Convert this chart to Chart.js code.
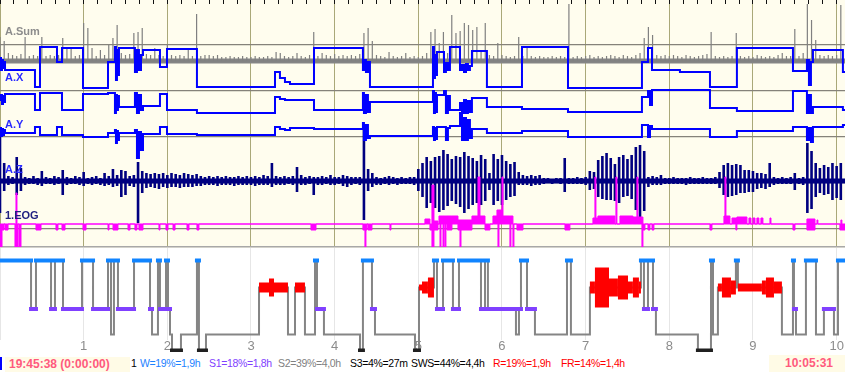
<!DOCTYPE html>
<html>
<head>
<meta charset="utf-8">
<script src="https://cdn.jsdelivr.net/npm/chart.js@4.4.1/dist/chart.umd.min.js"></script>
<style>
  html, body { margin: 0; padding: 0; background: #fff; }
  body { width: 845px; height: 372px; position: relative; overflow: hidden; font-family: "Liberation Sans", Arial, sans-serif; }
  #top { position: absolute; left: 0; top: 0; background: #fffdee; }
  #hyp { position: absolute; left: 0; top: 248px; background: #fff; }
  .lbl { position: absolute; left: 5px; font-weight: bold; font-size: 11px; line-height: 12px; white-space: nowrap; }
  #status { position: absolute; left: 0; top: 352px; width: 845px; height: 20px; font-size: 10.5px; letter-spacing: -0.35px; }
  #status span { position: absolute; top: 4px; line-height: 14px; white-space: nowrap; }
  .tbox { position: absolute; background: #fffbe6; color: #ff5a7d; font-weight: bold; font-size: 12px; line-height: 15px; white-space: nowrap; letter-spacing: 0; }
  #mark { position: absolute; left: 0; top: 5px; width: 2px; height: 13px; background: #0000ff; }
</style>
</head>
<body>
<canvas id="top" width="845" height="248"></canvas>
<canvas id="hyp" width="845" height="104"></canvas>

<div class="lbl" style="top:25px;color:#8c8c8c">A.Sum</div>
<div class="lbl" style="top:71px;color:#2b2bff">A.X</div>
<div class="lbl" style="top:118px;color:#2b2bff">A.Y</div>
<div class="lbl" style="top:163px;color:#2b2bff">A.Z</div>
<div class="lbl" style="top:209px;color:#202080">1.EOG</div>

<div id="status">
  <div id="mark"></div>
  <div class="tbox" style="left:5px;top:5px;width:121px;height:15px;padding-left:4px">19:45:38 (0:00:00)</div>
  <span style="left:131px;color:#000">1</span>
  <span style="left:140px;color:#1e82ff">W=19%=1,9h</span>
  <span style="left:209px;color:#8040ff">S1=18%=1,8h</span>
  <span style="left:278px;color:#808080">S2=39%=4,0h</span>
  <span style="left:350px;color:#000">S3=4%=27m</span>
  <span style="left:411px;color:#000">SWS=44%=4,4h</span>
  <span style="left:493px;color:#ff0000">R=19%=1,9h</span>
  <span style="left:561px;color:#ff0000">FR=14%=1,4h</span>
  <div class="tbox" style="left:769px;top:3px;width:64px;height:17px;line-height:17px;text-align:right;padding-right:12px">10:05:31</div>
</div>

<script>
// ---- recording span (hours) ----
const END_H = 10.1;
const BIN_H = 0.05;

// A.Sum: upward envelope per 0.05 h bin
const sumUp = [
  24,20,8,6,5,7,24,5,6,5,
  24,5,6,5,6,23,13,13,5,6,
  38,33,13,5,11,6,16,23,36,8,
  6,7,28,29,33,7,6,13,6,5,
  16,6,5,6,5,13,5,47,5,6,
  6,5,6,4,4,5,4,4,5,4,
  4,5,4,4,5,4,9,8,5,4,
  5,8,5,4,6,29,5,8,6,5,
  7,5,6,5,6,5,7,28,33,20,
  6,5,4,9,5,4,5,8,4,5,
  4,5,8,29,32,18,29,8,46,28,
  30,38,36,31,34,9,38,6,5,18,
  6,5,4,5,24,5,14,5,4,5,
  4,4,5,4,5,4,61,4,5,4,
  5,6,4,5,4,5,6,5,4,6,
  5,4,6,8,23,34,26,6,5,6,
  5,6,5,4,6,5,4,5,6,7,
  29,5,4,5,4,5,28,5,4,5,
  4,6,5,4,5,4,6,8,5,5,
  32,5,8,61,41,21,6,5,6,5,
  6,56,40
];

// A.Z activity: up / down envelope per 0.05 h bin
const azUp = [
  50,18,5,4,24,13,4,3,5,3,
  10,4,3,5,4,11,4,3,5,4,
  9,3,4,5,3,8,5,12,6,11,
  10,5,6,19,10,8,7,8,7,8,
  6,8,7,6,8,7,6,7,5,4,
  5,4,5,4,5,4,4,5,4,5,
  4,5,4,6,5,18,5,4,5,4,
  5,14,6,4,5,4,4,5,4,6,
  4,4,6,5,4,4,4,51,12,8,
  4,3,4,5,4,3,4,3,4,4,
  12,18,24,20,24,25,31,27,22,25,
  24,29,25,23,20,26,22,8,27,22,
  26,20,17,19,9,6,5,6,5,6,
  3,3,2,3,3,23,3,3,4,3,
  4,10,9,21,25,28,23,17,24,26,
  22,26,34,36,30,4,5,4,6,3,
  3,4,3,3,3,4,3,3,4,3,
  3,4,9,16,18,16,17,16,11,11,
  10,8,8,7,18,4,3,4,3,4,
  8,3,4,38,30,18,13,16,14,18,
  15,18,16
];
const azDown = [
  32,10,4,3,14,10,4,3,3,4,
  5,3,3,4,3,14,4,3,3,4,
  5,3,4,3,4,5,4,6,5,16,
  14,5,6,42,12,7,6,7,8,6,
  7,6,6,7,6,6,6,5,5,4,
  4,4,5,4,4,4,5,4,4,4,
  4,5,4,4,4,6,4,4,4,3,
  4,11,4,4,3,14,4,4,3,4,
  4,3,5,6,4,3,4,39,10,6,
  4,4,3,4,3,4,3,3,3,4,
  10,16,27,22,27,31,29,25,20,23,
  26,32,28,24,22,24,20,9,24,20,
  24,19,16,15,4,4,4,5,4,4,
  3,2,3,2,3,11,3,3,3,3,
  4,9,8,16,18,19,19,20,22,16,
  15,18,29,36,30,6,4,4,4,3,
  3,3,3,3,4,3,3,3,3,3,
  3,3,7,14,16,15,14,12,12,11,
  11,8,7,8,6,4,3,3,3,3,
  9,3,4,32,28,16,12,14,13,19,
  17,19,18
];

// body position channels: change times (h) and levels
const posTime = [0,0.012,0.024,0.036,0.048,0.060,0.418,0.478,0.681,0.741,
  0.992,1.291,1.374,1.386,1.398,1.410,1.422,1.613,1.637,1.661,
  1.685,1.709,1.912,1.996,2.354,3.287,3.346,3.406,3.466,3.753,
  4.338,4.350,4.374,4.398,4.422,5.175,5.187,5.199,5.211,5.223,
  5.307,5.330,5.354,5.378,5.498,5.522,5.546,5.570,5.593,5.617,
  5.641,5.820,6.239,6.789,7.673,7.745,7.769,7.793,8.127,8.486,
  8.808,9.478,9.645,9.669,9.693,9.717,10.075,10.1];
const posX = [31,19,29,21,27,19,2,42,27,41,
  1,27,42,9,39,14,41,17,39,19,
  34,39,22,40,2,17,11,7,5,41,
  19,29,17,27,2,42,11,34,14,37,
  17,26,19,42,19,24,17,25,19,23,
  38,2,42,1,27,41,41,19,17,2,
  41,18,29,4,27,39,17,17];
const posY = [13,18,9,17,11,19,3,20,20,3,
  19,20,0,18,3,17,6,20,0,18,
  3,7,19,3,0,16,14,13,13,3,
  20,0,18,1,11,22,0,20,1,18,
  22,0,17,3,10,0,13,0,12,1,
  15,6,4,1,16,22,8,23,23,5,
  2,22,0,18,0,6,3,3];
const posZ = [9,1,8,2,7,4,10,2,10,2,
  0,4,7,-6,6,-3,4,7,-21,5,
  -13,3,10,3,2,10,8,7,9,8,
  14,-3,12,-1,1,10,-3,9,-2,10,
  10,-3,9,11,24,-3,19,-3,17,-1,
  8,4,6,0,12,0,11,8,8,0,
  6,10,-3,9,-5,10,12,12];

// EOG: change times (h), upward and downward deflection held until next time
const eogTime = [0,0.024,0.048,0.060,0.096,0.179,0.191,0.203,0.215,0.227,
  0.251,0.430,0.490,0.669,0.693,0.741,0.777,0.992,1.028,1.291,
  1.303,1.351,1.410,1.530,1.554,1.613,1.637,1.661,1.709,1.900,
  1.912,1.984,2.008,2.068,2.092,2.235,2.259,2.354,2.378,3.717,
  3.777,4.338,4.362,4.374,4.386,4.398,4.446,4.661,4.673,5.079,
  5.139,5.163,5.187,5.235,5.247,5.259,5.271,5.295,5.307,5.318,
  5.330,5.342,5.402,5.474,5.498,5.510,5.641,5.713,5.737,5.797,
  5.856,5.892,5.940,5.952,5.964,6.000,6.012,6.095,6.107,6.131,
  6.143,6.179,6.251,6.753,6.812,7.087,7.111,7.123,7.147,7.350,
  7.362,7.374,7.410,7.565,7.613,7.625,7.673,7.685,7.709,7.745,
  7.769,7.793,7.816,8.486,8.510,8.653,8.665,8.677,8.725,8.749,
  8.796,8.808,8.928,8.952,8.976,9.000,9.024,9.047,9.071,9.095,
  9.119,9.203,9.215,9.478,9.502,9.645,9.741,9.765,9.776,10.039,
  10.051,10.063,10.1];
const eogUp = [0,0,0,0,0,0,31,0,0,0,
  0,0,0,0,0,0,0,0,0,0,
  0,0,0,0,0,0,0,0,0,0,
  0,0,0,0,0,0,0,0,0,0,
  0,0,0,0,0,0,0,0,0,5,
  0,39,3,0,8,8,8,8,8,8,
  8,8,8,4,4,4,8,47,8,0,
  0,8,14,14,14,47,8,8,8,0,
  0,0,0,0,0,6,47,6,8,0,
  47,0,8,7,47,7,7,0,0,0,
  0,0,0,0,0,8,47,8,0,6,
  6,7,0,6,0,6,0,6,0,6,
  0,6,0,0,0,5,0,4,0,0,
  4,0,0];
const eogDown = [23,6,0,6,0,23,23,23,0,23,
  0,6,0,6,0,6,0,6,0,6,
  0,6,0,6,0,6,0,6,0,6,
  0,6,0,6,0,6,0,6,0,6,
  0,6,23,6,0,6,0,6,0,0,
  6,23,6,0,0,23,0,23,0,23,
  0,6,0,6,23,6,0,0,0,6,
  0,0,0,23,0,0,0,23,0,23,
  0,6,0,6,0,0,0,0,0,0,
  0,0,0,0,0,0,23,6,0,6,
  0,6,0,6,0,0,0,0,0,0,
  6,0,0,0,0,0,0,0,0,0,
  0,0,0,6,0,6,0,0,0,6,
  6,6,6];

// hypnogram: epoch start (h) and stage
const hypnoStart = [0,0.371,0.430,0.610,0.657,0.753,0.980,1.112,1.291,1.327,
  1.362,1.410,1.602,1.793,1.817,1.888,1.912,1.984,2.008,2.032,
  2.056,2.163,2.354,2.378,2.462,3.096,3.442,3.526,3.645,3.765,
  3.789,3.872,4.303,4.338,4.446,4.482,4.960,5.008,5.187,5.223,
  5.295,5.414,5.486,5.749,5.797,5.832,6.167,6.203,6.227,6.299,
  6.394,6.777,6.824,7.051,7.661,7.697,7.745,7.805,7.840,8.342,
  8.498,8.522,8.581,8.796,8.820,9.346,9.478,9.490,9.514,9.633,
  9.753,9.848,9.968,10.016];
const hypnoStage = ['W','S1','W','S1','W','S1','W','S1','W','S2',
  'W','S1','W','S1','S2','W','S1','W','S1','S2',
  'S3','S2','W','S3','S2','R','S2','R','S2','W',
  'S1','S2','S3','W','S1','S2','S3','R','W','S1',
  'W','S1','W','S1','W','S1','S2','S1','W','S1',
  'S2','W','S2','R','W','S1','W','S1','S2','S3',
  'W','S2','R','W','R','S2','W','S1','S2','W',
  'S2','S1','S2','W'];

// REM intensity blocks (h) and half thickness
const remStart = [3.096,3.215,3.275,3.526,5.008,5.044,5.115,7.051,7.111,7.279,7.386,7.506,7.565,7.637,8.581,8.629,8.737,8.820,9.107,9.155,9.251];
const remEnd   = [3.215,3.275,3.442,3.645,5.044,5.115,5.187,7.111,7.279,7.386,7.506,7.565,7.637,7.661,8.629,8.737,8.796,9.107,9.155,9.251,9.346];
const remHalf  = [5,9,5,5,3,6,10,6,20,9,12,6,10,6,4,10,7,4,7,10,6];

// ---- layout of the signal panel (canvas px) ----
const TOP_Y = 4, BOTTOM_Y = 247;
const LANE_Y = [45, 91, 137, 183, 229];
const BASE = { sum: 61, x: 89, y: 113, z: 137, az: 181, eog: 224 };

// hypnogram levels (px from panel top)
const HYP_AREA_H = 92;
const STAGE_LEVEL = { W: 12.5, R: 39.5, S1: 61, S2: 86.5, S3: 102.5 };
const STAGE_COLOR = { W: '#1084ff', S1: '#8040ff', S3: '#202020' };

function chanAxis(base) {
  return { type: 'linear', display: false, min: base - BOTTOM_Y, max: base - TOP_Y };
}

// one vertical stroke per bin, from -down to +up, back on the baseline between bins
function spikes(up, down) {
  const pts = [];
  up.forEach((u, i) => {
    const t = i * BIN_H;
    pts.push({ x: t, y: 0 }, { x: t, y: u }, { x: t, y: down ? -down[i] : 0 }, { x: t, y: 0 });
  });
  return pts;
}

const flat = [{ x: 0, y: 0 }, { x: END_H, y: 0 }];

function steps(times, vals, sign) {
  return times.map((t, i) => ({ x: t, y: (sign || 1) * vals[i] }));
}

const stepLine = { stepped: true, borderColor: '#0000ff', borderWidth: 2 };

new Chart(document.getElementById('top'), {
  type: 'line',
  data: {
    datasets: [
      { ...stepLine, label: 'A.X', data: steps(posTime, posX), yAxisID: 'yX', order: 0 },
      { ...stepLine, label: 'A.Y', data: steps(posTime, posY), yAxisID: 'yY', order: 1 },
      { ...stepLine, label: 'A.Y2', data: steps(posTime, posZ), yAxisID: 'yZ', order: 2 },
      { label: 'EOG+', data: steps(eogTime, eogUp), yAxisID: 'yEOG', stepped: true,
        borderColor: '#ff00ff', borderWidth: 1, fill: '+1', backgroundColor: '#ff00ff', order: 3 },
      { label: 'EOG-', data: steps(eogTime, eogDown, -1), yAxisID: 'yEOG', stepped: true,
        borderColor: '#ff00ff', borderWidth: 1, order: 3 },
      { label: 'A.Z', data: spikes(azUp, azDown), yAxisID: 'yAZ', borderColor: '#000080', borderWidth: 2.6,
        borderJoinStyle: 'bevel', borderCapStyle: 'butt', order: 4 },
      { label: 'A.Z band', data: flat, yAxisID: 'yAZ', borderColor: '#000080', borderWidth: 5, order: 4 },
      { label: 'A.Sum', data: spikes(sumUp), yAxisID: 'ySum', borderColor: '#808080', borderWidth: 1.2,
        borderJoinStyle: 'bevel', borderCapStyle: 'butt', order: 5 },
      { label: 'A.Sum band', data: flat, yAxisID: 'ySum', borderColor: '#858585', borderWidth: 5, order: 5 }
    ]
  },
  options: {
    responsive: false,
    animation: false,
    events: [],
    layout: { padding: { bottom: 1 } },
    elements: { point: { radius: 0 }, line: { tension: 0 } },
    plugins: { legend: { display: false }, tooltip: { enabled: false } },
    scales: {
      x: {
        type: 'linear', position: 'top', min: 0, max: END_H,
        afterBuildTicks: s => { s.ticks = Array.from({ length: 61 }, (_, i) => ({ value: i / 6 })); },
        ticks: { display: false },
        grid: {
          color: c => (c.index % 6 === 0 ? '#aaa878' : 'rgba(0,0,0,0)'),
          tickColor: '#111', tickLength: 4, lineWidth: 1
        },
        border: { display: false }
      },
      xb: {
        type: 'linear', position: 'bottom', min: 0, max: END_H,
        ticks: { display: false },
        grid: { drawOnChartArea: false, drawTicks: false },
        border: { display: true, color: '#a8a8a8', width: 1.5, dash: [4, 3] }
      },
      lanes: {
        type: 'linear', position: 'left', min: TOP_Y, max: BOTTOM_Y, reverse: true,
        afterBuildTicks: s => { s.ticks = LANE_Y.map(v => ({ value: v })); },
        ticks: { display: false },
        grid: { color: '#85827a', lineWidth: 1.2, drawTicks: false },
        border: { display: false }
      },
      ySum: chanAxis(BASE.sum),
      yX: chanAxis(BASE.x),
      yY: chanAxis(BASE.y),
      yZ: chanAxis(BASE.z),
      yAZ: chanAxis(BASE.az),
      yEOG: chanAxis(BASE.eog)
    }
  }
});

// ---- hypnogram ----
const epochEnd = i => (i + 1 < hypnoStart.length ? hypnoStart[i + 1] : END_H);

const stepPts = hypnoStart.map((t, i) => ({ x: t, y: STAGE_LEVEL[hypnoStage[i]] }));
stepPts.push({ x: END_H, y: STAGE_LEVEL[hypnoStage[hypnoStage.length - 1]] });

function stageBars(stage) {
  const pts = [];
  hypnoStart.forEach((t, i) => {
    if (hypnoStage[i] !== stage) return;
    pts.push({ x: t, y: STAGE_LEVEL[stage] }, { x: epochEnd(i), y: STAGE_LEVEL[stage] }, { x: epochEnd(i), y: null });
  });
  return pts;
}

const remPts = [];
remStart.forEach((s, i) => {
  remPts.push({ x: s, y: STAGE_LEVEL.R, w: remHalf[i] * 2 }, { x: remEnd[i], y: STAGE_LEVEL.R }, { x: remEnd[i], y: null });
});

const barSet = stage => ({
  label: stage, data: stageBars(stage), borderColor: STAGE_COLOR[stage], borderWidth: 4,
  borderCapStyle: 'square', spanGaps: false, clip: false, order: 1
});

new Chart(document.getElementById('hyp'), {
  type: 'line',
  data: {
    datasets: [
      { label: 'REM', data: remPts, borderColor: '#ff0000', borderCapStyle: 'butt', spanGaps: false, clip: false, order: 0,
        segment: { borderWidth: c => remPts[c.p0DataIndex].w || 0 } },
      barSet('W'),
      barSet('S1'),
      barSet('S3'),
      { label: 'stages', data: stepPts, stepped: true, borderColor: '#858585', borderWidth: 2, clip: false, order: 9 }
    ]
  },
  options: {
    responsive: false,
    animation: false,
    events: [],
    elements: { point: { radius: 0 }, line: { tension: 0 } },
    plugins: { legend: { display: false }, tooltip: { enabled: false } },
    scales: {
      x: {
        type: 'linear', min: 0, max: END_H,
        ticks: {
          stepSize: 1, includeBounds: false, autoSkip: false, maxRotation: 0, padding: 0,
          color: '#8c8c8c', font: { family: 'Liberation Sans', size: 13, lineHeight: '12px' },
          callback: v => (v === 0 ? '' : v)
        },
        grid: { color: '#e6e6e6', drawTicks: false },
        border: { display: false }
      },
      y: { type: 'linear', display: false, min: 0, max: HYP_AREA_H, reverse: true }
    }
  }
});
</script>
</body>
</html>
